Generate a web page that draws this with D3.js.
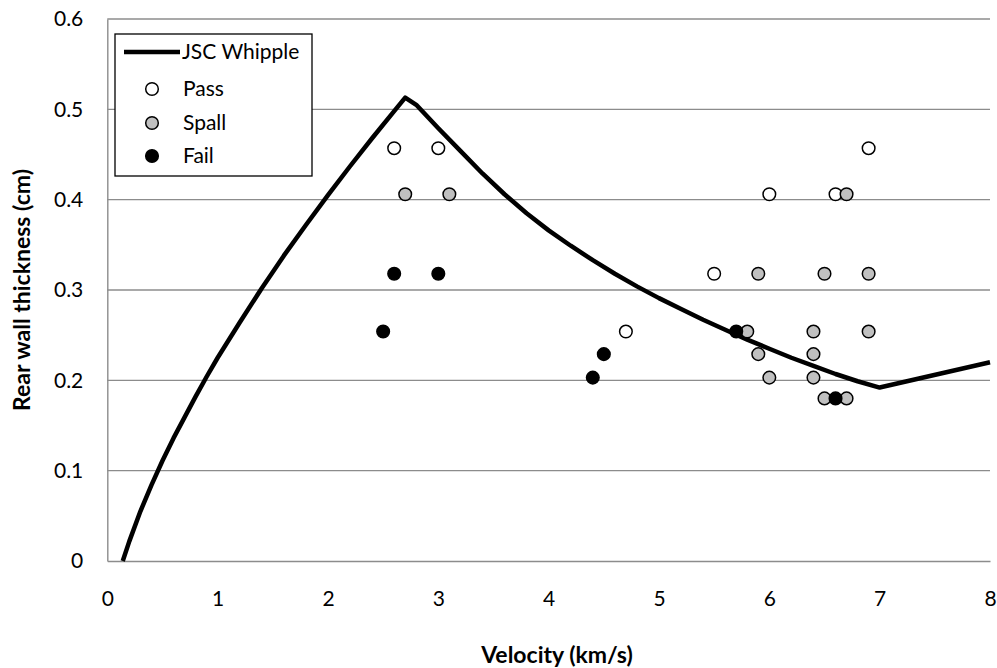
<!DOCTYPE html>
<html>
<head>
<meta charset="utf-8">
<script src="https://cdn.jsdelivr.net/npm/d3@7"></script>
<style>
  html, body { margin: 0; padding: 0; background: #fff; }
  svg { display: block; }
  text { font-family: Lato, "Open Sans", sans-serif; fill: #000; }
</style>
</head>
<body>
<svg id="chart" width="997" height="668"></svg>
<script>
// ---- data ----
const xTicks = [0, 1, 2, 3, 4, 5, 6, 7, 8];
const yTicks = [0, 0.1, 0.2, 0.3, 0.4, 0.5, 0.6];

const whippleV = [0.14, 0.2, 0.3, 0.4, 0.5, 0.6, 0.7, 0.8, 0.9, 1.0, 1.2, 1.4, 1.6, 1.8, 2.0, 2.2, 2.4, 2.6, 2.7,
                  2.8, 3.0, 3.2, 3.4, 3.6, 3.8, 4.0, 4.2, 4.4, 4.6, 4.8, 5.0, 5.2, 5.4, 5.6, 5.8, 6.0, 6.2, 6.4, 6.6, 6.8, 7.0, 8.0];
const whippleT = [0, 0.022, 0.055, 0.084, 0.111, 0.136, 0.159, 0.182, 0.204, 0.225, 0.264, 0.302, 0.338, 0.372, 0.405, 0.437, 0.468, 0.498, 0.513,
                  0.505, 0.479, 0.454, 0.429, 0.406, 0.385, 0.366, 0.349, 0.333, 0.318, 0.304, 0.291, 0.279, 0.267, 0.256, 0.245, 0.235, 0.225, 0.216, 0.207, 0.199, 0.192, 0.220];

const passV = [2.6, 3.0, 4.7, 5.5, 6.0, 6.6, 6.9];
const passT = [0.457, 0.457, 0.254, 0.318, 0.406, 0.406, 0.457];

const spallV = [2.7, 3.1, 5.8, 5.9, 5.9, 6.0, 6.4, 6.4, 6.4, 6.5, 6.5, 6.7, 6.7, 6.9, 6.9];
const spallT = [0.406, 0.406, 0.254, 0.318, 0.229, 0.203, 0.254, 0.229, 0.203, 0.318, 0.180, 0.406, 0.180, 0.318, 0.254];

const failV = [2.5, 2.6, 3.0, 4.4, 4.5, 5.7, 6.6];
const failT = [0.254, 0.318, 0.318, 0.203, 0.229, 0.254, 0.180];

const seriesNames = ["JSC Whipple", "Pass", "Spall", "Fail"];
const xTitle = "Velocity (km/s)";
const yTitle = "Rear wall thickness (cm)";

// ---- layout ----
const svg = d3.select("#chart");
const plotLeft = 107.3, plotRight = 990, plotTop = 19, plotBottom = 561;
const x = d3.scaleLinear().domain([0, 8]).range([plotLeft, plotRight]);
const y = d3.scaleLinear().domain([0, 0.6]).range([plotBottom, plotTop]);
const fontSize = 21;
const titleSize = 23;
const gridColor = "#8c8c8c";

// gridlines
svg.append("g").selectAll("line").data(yTicks.filter(d => d > 0)).join("line")
  .attr("x1", plotLeft).attr("x2", plotRight)
  .attr("y1", d => y(d)).attr("y2", d => y(d))
  .attr("stroke", gridColor).attr("stroke-width", 1.4);

// axes
const xAxis = svg.append("g").attr("transform", `translate(0,${plotBottom})`)
  .call(d3.axisBottom(x).tickValues(xTicks).tickSize(0).tickPadding(30).tickFormat(d3.format("d")));
xAxis.select(".domain").attr("stroke", gridColor).attr("stroke-width", 1.4);
xAxis.selectAll("text").style("font-size", fontSize + "px").style("font-family", "Lato, sans-serif").attr("fill", "#000");

const yAxis = svg.append("g").attr("transform", `translate(${plotLeft},0)`)
  .call(d3.axisLeft(y).tickValues(yTicks).tickSize(0).tickPadding(24).tickFormat(d => d === 0 ? "0" : d3.format(".1f")(d)));
yAxis.select(".domain").attr("stroke", gridColor).attr("stroke-width", 1.4);
yAxis.selectAll("text").style("font-size", fontSize + "px").style("font-family", "Lato, sans-serif").attr("fill", "#000");

// line
const line = d3.line().x(d => x(d[0])).y(d => y(d[1])).curve(d3.curveLinear);
svg.append("path")
  .datum(whippleV.map((v, i) => [v, whippleT[i]]))
  .attr("d", line)
  .attr("fill", "none").attr("stroke", "#000").attr("stroke-width", 4.5)
  .attr("stroke-linejoin", "round");

// markers
const r = 6.3;
function drawPoints(vs, ts, fill) {
  svg.append("g").selectAll("circle").data(vs.map((v, i) => [v, ts[i]])).join("circle")
    .attr("cx", d => x(d[0])).attr("cy", d => y(d[1])).attr("r", r)
    .attr("fill", fill).attr("stroke", "#000").attr("stroke-width", 1.5);
}
drawPoints(passV, passT, "#ffffff");
drawPoints(spallV, spallT, "#c0c0c0");
drawPoints(failV, failT, "#000000");

// legend
const lg = svg.append("g");
lg.append("rect").attr("x", 115).attr("y", 34).attr("width", 197).attr("height", 142)
  .attr("fill", "#fff").attr("stroke", "#000").attr("stroke-width", 1.3);
const legendFills = [null, "#ffffff", "#c0c0c0", "#000000"];
const legendY = [52, 89, 123, 156];
seriesNames.forEach((name, i) => {
  if (i === 0) {
    lg.append("line").attr("x1", 124).attr("x2", 180).attr("y1", legendY[i]).attr("y2", legendY[i])
      .attr("stroke", "#000").attr("stroke-width", 4.5);
    lg.append("text").attr("x", 182).attr("y", legendY[i]).attr("dy", "0.35em")
      .style("font-size", fontSize + "px").text(name);
  } else {
    lg.append("circle").attr("cx", 152).attr("cy", legendY[i]).attr("r", r)
      .attr("fill", legendFills[i]).attr("stroke", "#000").attr("stroke-width", 1.5);
    lg.append("text").attr("x", 183).attr("y", legendY[i]).attr("dy", "0.35em")
      .style("font-size", fontSize + "px").text(name);
  }
});

// axis titles
svg.append("text").attr("x", 557).attr("y", 655).attr("dy", "0.35em")
  .attr("text-anchor", "middle").style("font-size", titleSize + "px").style("font-weight", "bold").text(xTitle);
svg.append("text").attr("transform", `translate(22,290) rotate(-90)`)
  .attr("dy", "0.35em").attr("text-anchor", "middle")
  .style("font-size", titleSize + "px").style("font-weight", "bold").text(yTitle);
</script>
</body>
</html>
